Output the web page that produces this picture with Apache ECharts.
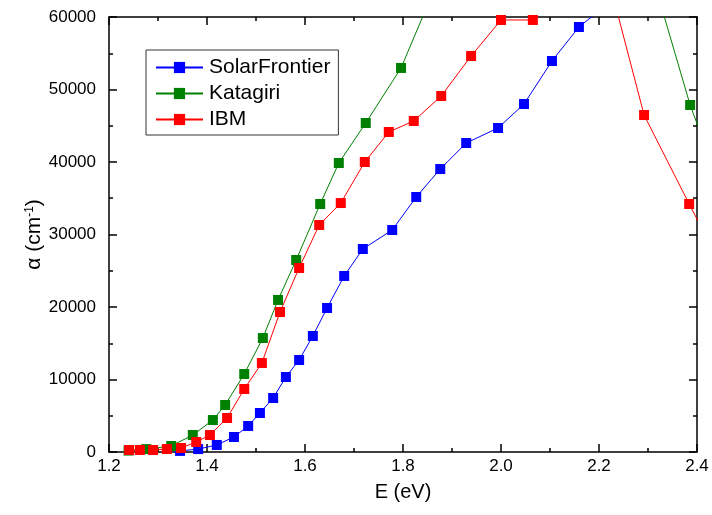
<!DOCTYPE html>
<html>
<head>
<meta charset="utf-8">
<style>
html,body{margin:0;padding:0;background:#fff;}
#main{width:712px;height:515px;}
</style>
<script src="https://cdn.jsdelivr.net/npm/echarts@6/dist/echarts.min.js"></script>
</head>
<body>
<div id="main"></div>
<script>
// Data (E in eV, alpha in cm^-1). Points above 60000 are off-chart.
var solarE = [1.345, 1.382, 1.420, 1.455, 1.484, 1.508, 1.535, 1.561, 1.588, 1.616, 1.645, 1.680, 1.718, 1.778, 1.827, 1.876, 1.929, 1.994, 2.047, 2.104, 2.159, 2.214];
var solarA = [150, 400, 970, 2070, 3590, 5380, 7450, 10340, 12690, 16000, 19860, 24280, 28000, 30620, 35170, 39030, 42620, 44690, 48000, 53930, 58620, 61600];

var kataE = [1.240, 1.276, 1.327, 1.371, 1.412, 1.437, 1.476, 1.514, 1.545, 1.582, 1.631, 1.669, 1.724, 1.796, 1.860, 2.320, 2.386, 2.440];
var kataA = [200, 400, 830, 2340, 4410, 6480, 10760, 15720, 20970, 26480, 34210, 39860, 45380, 52970, 63200, 63100, 47860, 38000];

var ibmE = [1.241, 1.263, 1.290, 1.318, 1.347, 1.378, 1.406, 1.441, 1.476, 1.512, 1.549, 1.588, 1.629, 1.673, 1.722, 1.771, 1.822, 1.878, 1.939, 2.000, 2.065, 2.130, 2.227, 2.292, 2.384, 2.450];
var ibmA = [280, 280, 280, 410, 550, 1380, 2340, 4690, 8690, 12280, 19310, 25380, 31310, 34340, 40000, 44140, 45660, 49100, 54620, 59590, 59590, 62500, 63300, 46480, 34210, 25650];

var seriesNames = ['SolarFrontier', 'Katagiri', 'IBM'];
var xTicks = [1.2, 1.4, 1.6, 1.8, 2.0, 2.2, 2.4];
var yTicks = [0, 10000, 20000, 30000, 40000, 50000, 60000];

function pairs(xs, ys) { return xs.map(function (x, i) { return [x, ys[i]]; }); }

var FONT = 'Liberation Sans, Arial, sans-serif';
var chart = echarts.init(document.getElementById('main'), null, {renderer: 'canvas'});

var axisCommon = {
  axisLine: {show: true, onZero: false, lineStyle: {color: '#000', width: 1.5}},
  axisTick: {show: true, inside: true, length: 8, lineStyle: {color: '#000', width: 1.5}},
  minorTick: {show: true, splitNumber: 2, length: 4, lineStyle: {color: '#000', width: 1.5}},
  splitLine: {show: false}
};

function mkSeries(name, data, color) {
  return {
    name: name, type: 'line', data: data,
    xAxisIndex: 0, yAxisIndex: 0,
    symbol: 'rect', symbolSize: 10,
    clip: true,
    lineStyle: {color: color, width: 1},
    itemStyle: {color: color},
    emphasis: {disabled: true},
    animation: false
  };
}

chart.setOption({
  animation: false,
  backgroundColor: '#fff',
  grid: {left: 109, right: 15, top: 17, bottom: 63},
  legend: {
    orient: 'vertical', left: 146, top: 50,
    data: seriesNames,
    itemWidth: 47, itemHeight: 14, itemGap: 5,
    padding: [7, 8, 5, 9],
    borderColor: '#333', borderWidth: 1,
    textStyle: {fontFamily: FONT, fontSize: 21, color: '#000', padding: [0, 0, 0, 1]}
  },
  xAxis: [
    Object.assign({}, axisCommon, {
      type: 'value', min: 1.2, max: 2.4, interval: 0.2, position: 'bottom',
      name: 'E (eV)', nameLocation: 'middle', nameGap: 30, nameMoveOverlap: false,
      nameTextStyle: {fontFamily: FONT, fontSize: 20, color: '#000'},
      axisLabel: {show: true, margin: 6, fontFamily: FONT, fontSize: 17, color: '#000',
        formatter: function (v) { return v.toFixed(1); }}
    }),
    Object.assign({}, axisCommon, {
      type: 'value', min: 1.2, max: 2.4, interval: 0.2, position: 'top',
      axisLabel: {show: false}
    })
  ],
  yAxis: [
    Object.assign({}, axisCommon, {
      type: 'value', min: 0, max: 60000, interval: 10000, position: 'left',
      name: 'α (cm{sup|-1})', nameLocation: 'middle', nameGap: 64, nameMoveOverlap: false,
      nameTextStyle: {fontFamily: FONT, fontSize: 21, color: '#000',
        rich: {sup: {fontFamily: FONT, fontSize: 12, verticalAlign: 'top', padding: [0, 0, 9, 0], color: '#000'}}},
      axisLabel: {show: true, margin: 13, fontFamily: FONT, fontSize: 17, color: '#000',
        formatter: function (v) { return String(v); }}
    }),
    Object.assign({}, axisCommon, {
      type: 'value', min: 0, max: 60000, interval: 10000, position: 'right',
      axisLabel: {show: false}
    })
  ],
  series: [
    mkSeries(seriesNames[0], pairs(solarE, solarA), '#0000FF'),
    mkSeries(seriesNames[1], pairs(kataE, kataA), '#008000'),
    mkSeries(seriesNames[2], pairs(ibmE, ibmA), '#FF0000')
  ]
});
</script>
</body>
</html>
